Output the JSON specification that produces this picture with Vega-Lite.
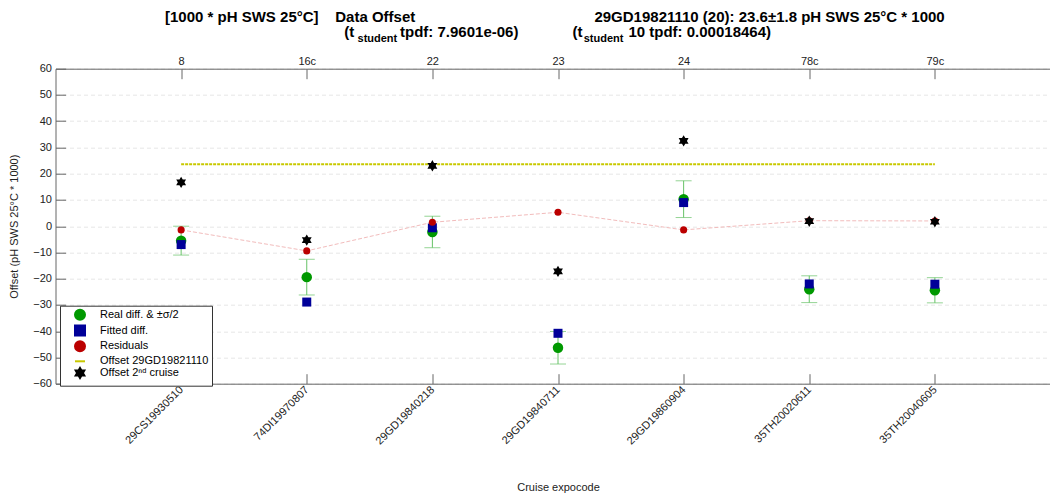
{
  "$schema": "https://vega.github.io/schema/vega-lite/v6.json",
  "width": 1005,
  "height": 315,
  "autosize": {"type": "none"},
  "padding": {"left": 55.5, "top": 68.7, "right": 0, "bottom": 112.3},
  "background": "white",
  "config": {
    "font": "Liberation Sans",
    "view": {"stroke": null},
    "axis": {
      "labelFont": "Liberation Sans",
      "labelFontSize": 11,
      "labelColor": "#222222",
      "labelOverlap": false,
      "titleFont": "Liberation Sans",
      "titleFontSize": 11,
      "titleFontWeight": "normal",
      "titleColor": "#222222",
      "domainColor": "#666666",
      "tickColor": "#666666"
    }
  },
  "title": {
    "text": [
      "[1000 * pH SWS 25°C]\u00a0\u00a0\u00a0\u00a0Data Offset\u00a0\u00a0\u00a0\u00a0\u00a0\u00a0\u00a0\u00a0\u00a0\u00a0\u00a0\u00a0\u00a0\u00a0\u00a0\u00a0\u00a0\u00a0\u00a0\u00a0\u00a0\u00a0\u00a0\u00a0\u00a0\u00a0\u00a0\u00a0\u00a0\u00a0\u00a0\u00a0\u00a0\u00a0\u00a0\u00a0\u00a0\u00a0\u00a0\u00a0\u00a0\u00a0\u00a029GD19821110 (20): 23.6±1.8 pH SWS 25°C * 1000",
      "\u200b\u00a0\u00a0\u00a0\u00a0\u00a0\u00a0\u00a0\u00a0\u00a0\u00a0\u00a0\u00a0\u00a0\u00a0\u00a0\u00a0\u00a0\u00a0\u00a0\u00a0\u00a0\u00a0\u00a0\u00a0\u00a0\u00a0\u00a0\u00a0\u00a0\u00a0\u00a0\u00a0\u00a0\u00a0\u00a0\u00a0\u00a0\u00a0\u00a0\u00a0\u00a0\u00a0\u00a0(t\u00a0\u00a0\u00a0\u00a0\u00a0\u00a0\u00a0\u00a0\u00a0\u00a0\u00a0tpdf: 7.9601e-06)\u00a0\u00a0\u00a0\u00a0\u00a0\u00a0\u00a0\u00a0\u00a0\u00a0\u00a0\u00a0\u00a0(t\u00a0\u00a0\u00a0\u00a0\u00a0\u00a0\u00a0\u00a0\u00a0\u00a0\u00a010 tpdf: 0.00018464)"
    ],
    "subtitle": "\u200b\u00a0\u00a0\u00a0\u00a0\u00a0\u00a0\u00a0\u00a0\u00a0\u00a0\u00a0\u00a0\u00a0\u00a0\u00a0\u00a0\u00a0\u00a0\u00a0\u00a0\u00a0\u00a0\u00a0\u00a0\u00a0\u00a0\u00a0\u00a0\u00a0\u00a0\u00a0\u00a0\u00a0\u00a0\u00a0\u00a0\u00a0\u00a0\u00a0\u00a0\u00a0\u00a0\u00a0\u00a0\u00a0\u00a0\u00a0\u00a0\u00a0\u00a0\u00a0\u00a0\u00a0\u00a0\u00a0\u00a0\u00a0\u00a0\u00a0\u00a0\u00a0\u00a0\u00a0student\u00a0\u00a0\u00a0\u00a0\u00a0\u00a0\u00a0\u00a0\u00a0\u00a0\u00a0\u00a0\u00a0\u00a0\u00a0\u00a0\u00a0\u00a0\u00a0\u00a0\u00a0\u00a0\u00a0\u00a0\u00a0\u00a0\u00a0\u00a0\u00a0\u00a0\u00a0\u00a0\u00a0\u00a0\u00a0\u00a0\u00a0\u00a0\u00a0\u00a0\u00a0\u00a0\u00a0\u00a0\u00a0\u00a0\u00a0\u00a0\u00a0\u00a0\u00a0\u00a0\u00a0\u00a0\u00a0\u00a0\u00a0\u00a0\u00a0\u00a0\u00a0student",
    "anchor": "start",
    "frame": "group",
    "dx": 109.5,
    "offset": 12,
    "font": "Liberation Sans",
    "fontSize": 15,
    "fontWeight": "bold",
    "lineHeight": 15,
    "color": "#000000",
    "subtitleFont": "Liberation Sans",
    "subtitleFontSize": 11,
    "subtitleFontWeight": "bold",
    "subtitleColor": "#000000",
    "subtitlePadding": -7
  },
  "datasets": {
    "cruises": [
      {"station": "8", "expocode": "29CS19930510", "real": -5.5, "err": 5.5, "fitted": -7.0, "residual": -1.4, "second": 16.7},
      {"station": "16c", "expocode": "74DI19970807", "real": -19.4, "err": 6.8, "fitted": -28.9, "residual": -9.4, "second": -5.3},
      {"station": "22", "expocode": "29GD19840218", "real": -2.2, "err": 6.0, "fitted": -0.6, "residual": 1.5, "second": 23.0},
      {"station": "23", "expocode": "29GD19840711", "real": -46.3, "err": 6.2, "fitted": -40.8, "residual": 5.3, "second": -17.2},
      {"station": "24", "expocode": "29GD19860904", "real": 10.3, "err": 7.0, "fitted": 9.0, "residual": -1.4, "second": 32.5},
      {"station": "78c", "expocode": "35TH20020611", "real": -24.0, "err": 5.1, "fitted": -22.0, "residual": 2.1, "second": 1.9},
      {"station": "79c", "expocode": "35TH20040605", "real": -24.4, "err": 4.8, "fitted": -22.1, "residual": 2.0, "second": 1.7}
    ],
    "reference": [
      {"from": "29CS19930510", "to": "35TH20040605", "offset": 23.6}
    ]
  },
  "layer": [
    {
      "layer": [
        {
          "data": {"name": "cruises"},
          "mark": {"type": "errorbar", "color": "#66c266", "thickness": 1, "ticks": {"size": 16, "thickness": 1, "color": "#66c266"}},
          "encoding": {
            "x": {
              "field": "expocode", "type": "nominal", "sort": null,
              "scale": {"type": "point", "padding": 1},
              "axis": {
                "orient": "bottom", "title": "Cruise expocode",
                "labelAngle": -45, "labelAlign": "right", "labelBaseline": "middle",
                "tickSize": -10, "labelPadding": 14,
                "titleY": 104, "titleBaseline": "middle", "grid": false
              }
            },
            "y": {
              "field": "real", "type": "quantitative",
              "title": "Offset (pH SWS 25°C * 1000)",
              "scale": {"domain": [-60, 60], "nice": false, "zero": false}
            },
            "yError": {"field": "err"}
          }
        },
        {
          "data": {"name": "cruises"},
          "mark": {"type": "point", "filled": true, "opacity": 1, "strokeWidth": 0, "size": 110},
          "encoding": {
            "x": {"field": "expocode", "type": "nominal", "sort": null},
            "y": {
              "field": "real", "type": "quantitative",
              "title": "Offset (pH SWS 25°C * 1000)",
              "axis": {
                "values": [-60, -50, -40, -30, -20, -10, 0, 10, 20, 30, 40, 50, 60],
                "tickCount": 13,
                "tickSize": -10, "labelPadding": 14,
                "grid": true, "gridColor": "#e6e6e6", "gridDash": [4, 3],
                "titleX": -41, "titleBaseline": "middle"
              }
            },
            "color": {
              "datum": "Real diff. & ±σ/2",
              "scale": {
                "domain": ["Real diff. & ±σ/2", "Fitted diff.", "Residuals", "Offset 29GD19821110", "Offset 2ⁿᵈ cruise"],
                "range": ["#009900", "#000099", "#bb0000", "#c8c800", "#000000"]
              },
              "legend": {
                "title": null,
                "orient": "none",
                "legendX": 4.5,
                "legendY": 237,
                "direction": "vertical",
                "fillColor": "white",
                "strokeColor": "#333333",
                "padding": 3,
                "rowPadding": -2.2,
                "labelFont": "Liberation Sans",
                "labelFontSize": 11,
                "labelColor": "#000000",
                "symbolSize": 100,
                "symbolOffset": 11,
                "symbolStrokeWidth": 2,
                "labelOffset": 14
              }
            },
            "shape": {
              "datum": "Real diff. & ±σ/2",
              "scale": {
                "domain": ["Real diff. & ±σ/2", "Fitted diff.", "Residuals", "Offset 29GD19821110", "Offset 2ⁿᵈ cruise"],
                "range": ["circle", "square", "circle", "stroke", "M0,-1L0.289,-0.5L0.866,-0.5L0.577,0L0.866,0.5L0.289,0.5L0,1L-0.289,0.5L-0.866,0.5L-0.577,0L-0.866,-0.5L-0.289,-0.5Z"]
              },
              "legend": {"title": null}
            }
          }
        },
        {
          "data": {"name": "cruises"},
          "mark": {"type": "point", "filled": true, "opacity": 1, "strokeWidth": 0, "size": 81},
          "encoding": {
            "x": {"field": "expocode", "type": "nominal", "sort": null},
            "y": {"field": "fitted", "type": "quantitative"},
            "color": {"datum": "Fitted diff."},
            "shape": {"datum": "Fitted diff."}
          }
        },
        {
          "data": {"name": "cruises"},
          "mark": {"type": "line", "color": "#f2bcbc", "strokeWidth": 1, "strokeDash": [4, 2]},
          "encoding": {
            "x": {"field": "expocode", "type": "nominal", "sort": null},
            "y": {"field": "residual", "type": "quantitative"}
          }
        },
        {
          "data": {"name": "cruises"},
          "mark": {"type": "point", "filled": true, "opacity": 1, "strokeWidth": 0, "size": 50},
          "encoding": {
            "x": {"field": "expocode", "type": "nominal", "sort": null},
            "y": {"field": "residual", "type": "quantitative"},
            "color": {"datum": "Residuals"},
            "shape": {"datum": "Residuals"}
          }
        },
        {
          "data": {"name": "reference"},
          "mark": {"type": "rule", "strokeWidth": 2, "strokeDash": [3, 1]},
          "encoding": {
            "x": {"field": "from", "type": "nominal", "sort": null},
            "x2": {"field": "to"},
            "y": {"field": "offset", "type": "quantitative"},
            "color": {"datum": "Offset 29GD19821110"}
          }
        }
      ]
    },
    {
      "data": {"name": "cruises"},
      "mark": {"type": "point", "filled": true, "opacity": 1, "strokeWidth": 0.5, "size": 130},
      "encoding": {
        "x": {
          "field": "station", "type": "nominal", "sort": null,
          "scale": {"type": "point", "padding": 1},
          "axis": {"orient": "top", "title": null, "labelAngle": 0, "tickSize": -10, "labelPadding": 12, "grid": false}
        },
        "y": {"field": "second", "type": "quantitative"},
        "color": {"datum": "Offset 2ⁿᵈ cruise"},
        "shape": {"datum": "Offset 2ⁿᵈ cruise"}
      }
    }
  ],
  "resolve": {"scale": {"x": "independent"}, "axis": {"x": "independent"}}
}
